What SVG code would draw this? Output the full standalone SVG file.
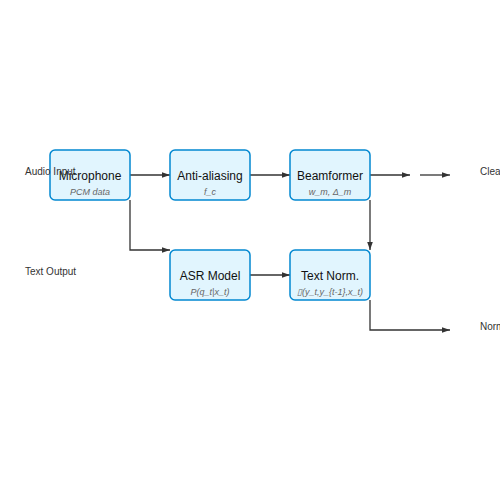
<svg xmlns="http://www.w3.org/2000/svg" width="500" height="500" viewBox="0 0 500 500">
<style>
.node rect{fill:#e1f5fe;stroke:#0288d1;stroke-width:1.5}
.title{font-family:"Liberation Sans",Arial,sans-serif;font-size:12px;fill:#111;text-anchor:middle}
.sub{font-family:"Liberation Sans",Arial,sans-serif;font-size:9px;font-style:italic;fill:#666;text-anchor:middle}
.lbl{font-family:"Liberation Sans",Arial,sans-serif;font-size:10px;fill:#333}
.edges path{fill:none;stroke:#333;stroke-width:1.3;marker-end:url(#ah)}
</style>
<defs>
<marker id="ah" viewBox="0 0 10 10" refX="10" refY="5" markerWidth="8" markerHeight="8" markerUnits="userSpaceOnUse" orient="auto"><path d="M0,1.5L10,5L0,8.5z" fill="#333"/></marker>
</defs>
<rect width="500" height="500" fill="#fff"/>
<g class="edges">
<path d="M130,175H170"/>
<path d="M250,175H290"/>
<path d="M370,175H410"/>
<path d="M420,175H450"/>
<path d="M130,200V250H170"/>
<path d="M370,200V250"/>
<path d="M250,275H290"/>
<path d="M370,300V330H450"/>
</g>
<g id="mic" class="node"><rect x="50" y="150" width="80" height="50" rx="5"/><text class="title" x="90" y="180">Microphone</text><text class="sub" x="90" y="195">PCM data</text></g>
<g id="aa" class="node"><rect x="170" y="150" width="80" height="50" rx="5"/><text class="title" x="210" y="180">Anti-aliasing</text><text class="sub" x="210" y="195">f_c</text></g>
<g id="bf" class="node"><rect x="290" y="150" width="80" height="50" rx="5"/><text class="title" x="330" y="180">Beamformer</text><text class="sub" x="330" y="195">w_m, Δ_m</text></g>
<g id="asr" class="node"><rect x="170" y="250" width="80" height="50" rx="5"/><text class="title" x="210" y="280">ASR Model</text><text class="sub" x="210" y="295">P(q_t|x_t)</text></g>
<g id="tn" class="node"><rect x="290" y="250" width="80" height="50" rx="5"/><text class="title" x="330" y="280">Text Norm.</text><text class="sub" x="330" y="295">▯(y_t,y_{t-1},x_t)</text></g>
<g id="labels">
<text class="lbl" x="25" y="175">Audio Input</text>
<text class="lbl" x="25" y="275">Text Output</text>
<text class="lbl" x="480" y="175">Clean Audio</text>
<text class="lbl" x="480" y="330">Normalized Text</text>
</g>
</svg>
